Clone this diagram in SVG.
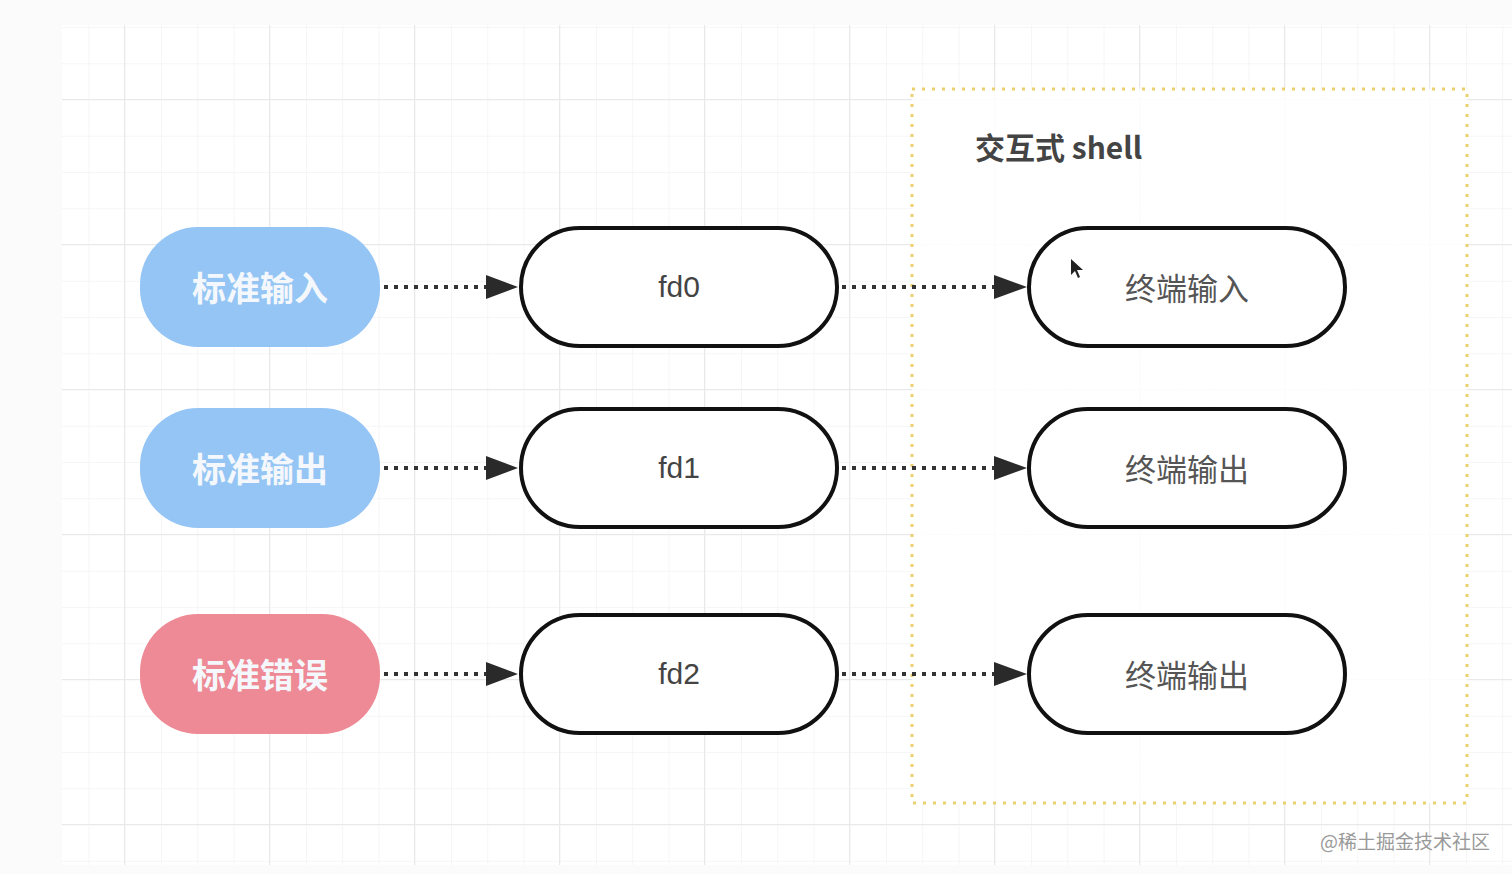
<svg xmlns="http://www.w3.org/2000/svg" width="1512" height="874" viewBox="0 0 1512 874">
<defs>
<pattern id="minor" x="17" y="28" width="36.25" height="36.25" patternUnits="userSpaceOnUse">
<path d="M36.25 0V36.25M0 36.25H36.25" fill="none" stroke="#f3f3f3" stroke-width="1.5"/>
</pattern>
<pattern id="major" x="-20" y="-45" width="145" height="145" patternUnits="userSpaceOnUse">
<path d="M145 0V145M0 145H145" fill="none" stroke="#e9e9e9" stroke-width="2"/>
</pattern>
<marker id="arr" viewBox="0 0 10 10" refX="10" refY="5" markerWidth="8" markerHeight="8" markerUnits="userSpaceOnUse" orient="auto">
<path d="M0 0L10 5L0 10Z" fill="#222"/>
</marker>
<style>
.src{stroke:none}
.blue{fill:#94c5f4}
.red{fill:#ee8a95}
.srct{font-family:"Noto Sans CJK SC","Liberation Sans",sans-serif;font-size:34px;font-weight:bold;fill:#f4f8fc;text-anchor:middle;dominant-baseline:central}
.box{fill:#ffffff;stroke:#111;stroke-width:4}
.fdt{font-family:"Liberation Sans",Arial,sans-serif;font-size:30px;fill:#444;text-anchor:middle;dominant-baseline:central}
.tt{font-family:"Noto Sans CJK SC","Liberation Sans",sans-serif;font-size:31px;fill:#555;text-anchor:middle;dominant-baseline:central}
.con{fill:none;stroke:#333;stroke-width:4;stroke-dasharray:4 6}
.ah{fill:#2a2a2a}
</style>
</defs>
<rect width="1512" height="874" fill="#fbfbfb"/>
<rect x="62" y="25" width="1450" height="840" fill="#ffffff"/>
<rect x="62" y="25" width="1450" height="840" fill="url(#minor)"/>
<rect x="62" y="25" width="1450" height="840" fill="url(#major)"/>

<g id="shell-group">
<rect x="912" y="89" width="555" height="714" fill="#ffffff" fill-opacity="0.85" stroke="#ebd070" stroke-width="3" stroke-dasharray="3 7"/>
<text x="975" y="146" font-family="Noto Sans CJK SC,Liberation Sans,sans-serif" font-size="30" font-weight="bold" fill="#444" dominant-baseline="central">交互式 shell</text>
</g>

<g id="connectors">
<line class="con" x1="384" y1="287" x2="488" y2="287"/>
<path class="ah" d="M486 275L518 287L486 299Z"/>
<line class="con" x1="384" y1="468" x2="488" y2="468"/>
<path class="ah" d="M486 456L518 468L486 480Z"/>
<line class="con" x1="384" y1="674" x2="488" y2="674"/>
<path class="ah" d="M486 662L518 674L486 686Z"/>
<line class="con" x1="842" y1="287" x2="996" y2="287"/>
<path class="ah" d="M994 275L1027 287L994 299Z"/>
<line class="con" x1="842" y1="468" x2="996" y2="468"/>
<path class="ah" d="M994 456L1027 468L994 480Z"/>
<line class="con" x1="842" y1="674" x2="996" y2="674"/>
<path class="ah" d="M994 662L1027 674L994 686Z"/>
</g>

<g id="stdin"><rect class="src blue" x="140" y="227" width="240" height="120" rx="58"/><text class="srct" x="260" y="286">标准输入</text></g>
<g id="stdout"><rect class="src blue" x="140" y="408" width="240" height="120" rx="58"/><text class="srct" x="260" y="467">标准输出</text></g>
<g id="stderr"><rect class="src red" x="140" y="614" width="240" height="120" rx="58"/><text class="srct" x="260" y="673">标准错误</text></g>

<g id="fd0"><rect class="box" x="521" y="228" width="316" height="118" rx="59"/><text class="fdt" x="679" y="286">fd0</text></g>
<g id="fd1"><rect class="box" x="521" y="409" width="316" height="118" rx="59"/><text class="fdt" x="679" y="467">fd1</text></g>
<g id="fd2"><rect class="box" x="521" y="615" width="316" height="118" rx="59"/><text class="fdt" x="679" y="673">fd2</text></g>

<g id="term-in"><rect class="box" x="1029" y="228" width="316" height="118" rx="59"/><text class="tt" x="1187" y="286">终端输入</text></g>
<g id="term-out"><rect class="box" x="1029" y="409" width="316" height="118" rx="59"/><text class="tt" x="1187" y="467">终端输出</text></g>
<g id="term-err"><rect class="box" x="1029" y="615" width="316" height="118" rx="59"/><text class="tt" x="1187" y="673">终端输出</text></g>

<path d="M1071 259L1071 275L1075 271L1078 278L1080 277L1077 270L1083 270Z" fill="#222"/>

<text x="1490" y="840" text-anchor="end" font-family="Noto Sans CJK SC,Liberation Sans,sans-serif" font-size="19" fill="#999" dominant-baseline="central">@稀土掘金技术社区</text>
</svg>
